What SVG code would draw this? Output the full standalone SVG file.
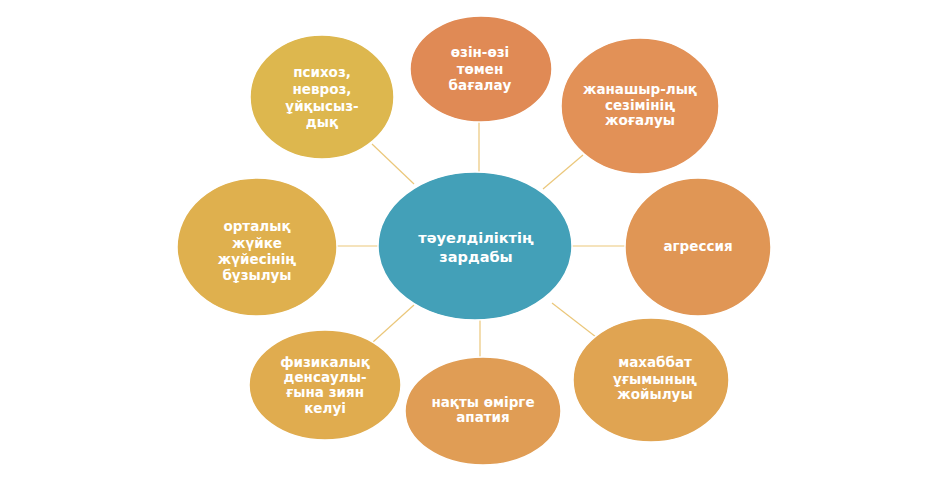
<svg xmlns="http://www.w3.org/2000/svg" width="950" height="491" viewBox="0 0 950 491">
<style>
.n{stroke:#ffffff;stroke-width:1.5}
.t{font-family:"DejaVu Sans",Verdana,sans-serif;font-weight:bold;font-size:13.5px;fill:#ffffff;text-anchor:middle}
.c{font-size:14.5px}
.l{stroke:#EBC77A;stroke-width:1.2;fill:none}
</style>
<rect width="950" height="491" fill="#ffffff"/>
<g id="connectors">
<line class="l" x1="479" y1="122" x2="479" y2="172"/>
<line class="l" x1="372" y1="144" x2="414" y2="184"/>
<line class="l" x1="583" y1="155" x2="543" y2="189"/>
<line class="l" x1="337" y1="246" x2="378" y2="246"/>
<line class="l" x1="572" y1="246" x2="625" y2="246"/>
<line class="l" x1="373" y1="342" x2="414" y2="305"/>
<line class="l" x1="480" y1="320" x2="480" y2="357"/>
<line class="l" x1="552" y1="303" x2="596" y2="337"/>
</g>
<g id="center">
<ellipse class="n" cx="475" cy="246" rx="97" ry="74" fill="#43A0B8"/>
<text class="t c" x="476" y="243">тәуелділіктің</text>
<text class="t c" x="476" y="262">зардабы</text>
</g>
<g id="n-top">
<ellipse class="n" cx="481" cy="69" rx="71" ry="53" fill="#E08A55"/>
<text class="t" x="480" y="57">өзін-өзі</text>
<text class="t" x="480" y="74">төмен</text>
<text class="t" x="480" y="90">бағалау</text>
</g>
<g id="n-empathy">
<ellipse class="n" cx="640" cy="106" rx="79" ry="68" fill="#E29157"/>
<text class="t" x="640" y="94">жанашыр-лық</text>
<text class="t" x="640" y="110">сезімінің</text>
<text class="t" x="640" y="125">жоғалуы</text>
</g>
<g id="n-aggression">
<ellipse class="n" cx="698" cy="247" rx="73" ry="69" fill="#E09655"/>
<text class="t" x="698" y="251">агрессия</text>
</g>
<g id="n-love">
<ellipse class="n" cx="651" cy="380" rx="78" ry="62" fill="#E0A452"/>
<text class="t" x="655" y="367">махаббат</text>
<text class="t" x="655" y="384">ұғымының</text>
<text class="t" x="655" y="399">жойылуы</text>
</g>
<g id="n-apathy">
<ellipse class="n" cx="483" cy="411" rx="78" ry="54" fill="#E09D55"/>
<text class="t" x="483" y="407">нақты өмірге</text>
<text class="t" x="483" y="422">апатия</text>
</g>
<g id="n-physical">
<ellipse class="n" cx="325" cy="385" rx="76" ry="55" fill="#E0AC4F"/>
<text class="t" x="325" y="367">физикалық</text>
<text class="t" x="325" y="382">денсаулы-</text>
<text class="t" x="325" y="397">ғына зиян</text>
<text class="t" x="325" y="413">келуі</text>
</g>
<g id="n-cns">
<ellipse class="n" cx="257" cy="247" rx="80" ry="69" fill="#DFB04E"/>
<text class="t" x="257" y="231">орталық</text>
<text class="t" x="257" y="248">жүйке</text>
<text class="t" x="257" y="264">жүйесінің</text>
<text class="t" x="257" y="280">бұзылуы</text>
</g>
<g id="n-psychosis">
<ellipse class="n" cx="322" cy="97" rx="72" ry="62" fill="#DDB74E"/>
<text class="t" x="322" y="77">психоз,</text>
<text class="t" x="322" y="94">невроз,</text>
<text class="t" x="322" y="111">ұйқысыз-</text>
<text class="t" x="322" y="127">дық</text>
</g>
</svg>
